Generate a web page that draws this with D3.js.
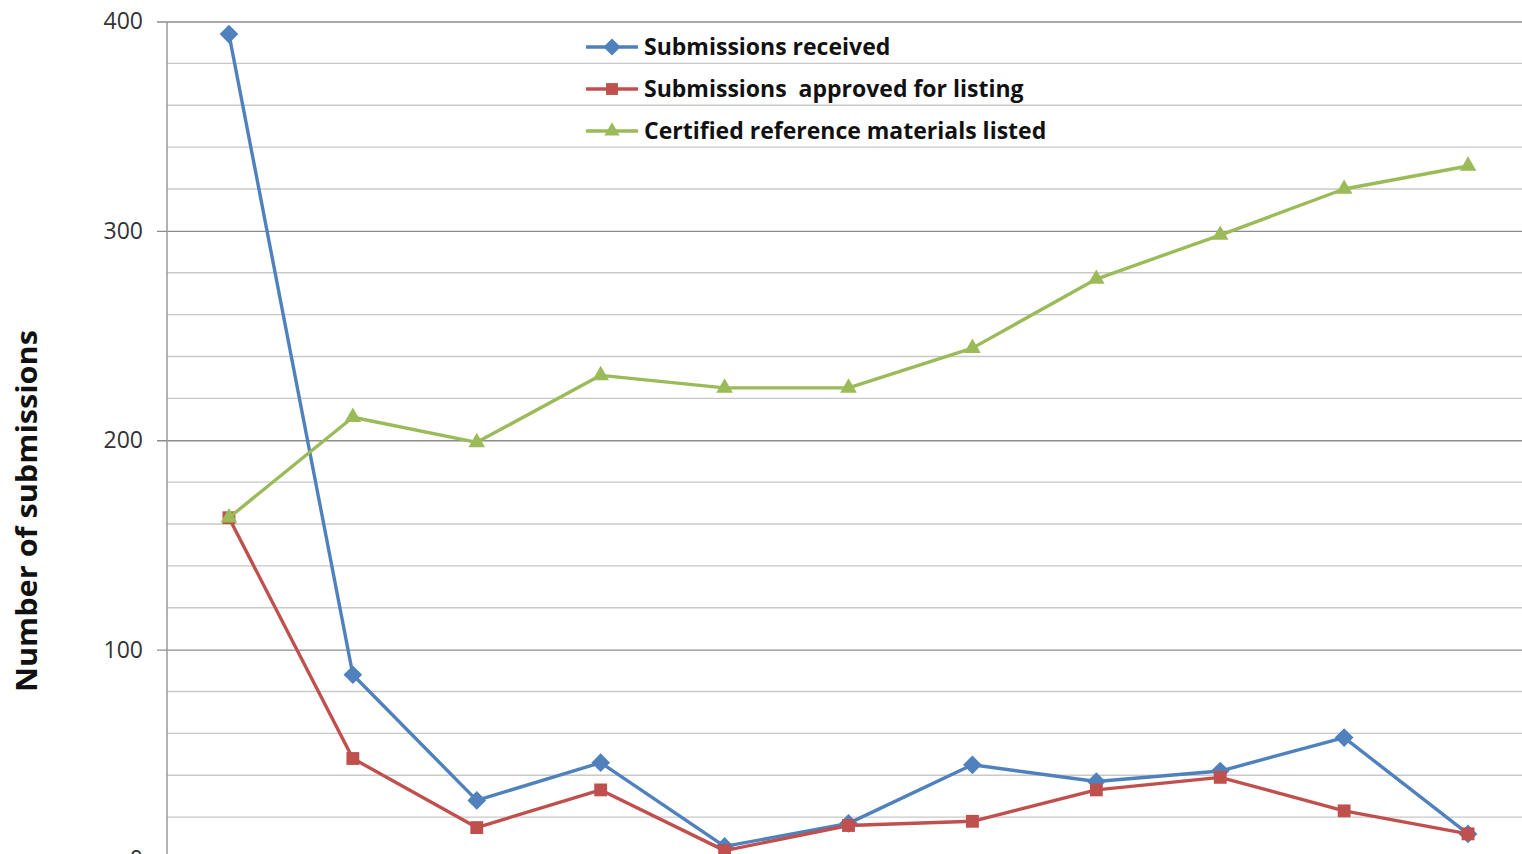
<!DOCTYPE html>
<html>
<head>
<meta charset="utf-8">
<script src="https://cdn.jsdelivr.net/npm/d3@7"></script>
<style>
  html, body { margin: 0; padding: 0; background: #fff; overflow: hidden; }
  svg { display: block; }
  text { font-family: "Open Sans", "Liberation Sans", sans-serif; }
</style>
</head>
<body>
<svg id="chart" width="1522" height="854"></svg>
<script>
// Categories (reporting years) and the three series
const categories = ["2003", "2004", "2005", "2006", "2007", "2008", "2009", "2010", "2011", "2012", "2013"];
const received = [394, 88, 28, 46, 6, 17, 45, 37, 42, 58, 12];
const approved = [163, 48, 15, 33, 4, 16, 18, 33, 39, 23, 12];
const listed = [163, 211, 199, 231, 225, 225, 244, 277, 298, 320, 331];
const seriesNames = ["Submissions received", "Submissions  approved for listing", "Certified reference materials listed"];
const yTicks = [0, 100, 200, 300, 400];

const svg = d3.select("#chart");
const plotLeft = 167, plotRight = 1530, plotTop = 21.5, plotBottom = 859;

const x = d3.scaleBand().domain(categories).range([plotLeft, plotRight]);
const y = d3.scaleLinear().domain([0, 400]).range([plotBottom, plotTop]);
const cx = c => x(c) + x.bandwidth() / 2;

// Minor gridlines every 20
const minor = d3.range(20, 400, 20).filter(v => v % 100 !== 0);
svg.append("g").selectAll("line").data(minor).join("line")
  .attr("x1", plotLeft).attr("x2", plotRight)
  .attr("y1", d => y(d)).attr("y2", d => y(d))
  .attr("stroke", "#c8c8c8").attr("stroke-width", 1.3);

// Major gridlines with ticks
const yAxis = d3.axisLeft(y).tickValues(yTicks).tickSize(-(plotRight - plotLeft)).tickPadding(24);
const gy = svg.append("g").attr("transform", `translate(${plotLeft},0)`).call(yAxis);
gy.select(".domain").remove();
gy.selectAll(".tick line").attr("stroke", "#8c8c8c").attr("stroke-width", 1.3).attr("x1", -10);
gy.selectAll(".tick text").attr("fill", "#333").attr("font-size", 23)
  .attr("font-family", "'Open Sans', sans-serif");

// Vertical axis line
svg.append("line").attr("x1", plotLeft).attr("x2", plotLeft).attr("y1", plotTop).attr("y2", plotBottom)
  .attr("stroke", "#9a9a9a").attr("stroke-width", 1.5);

// Category axis line at the bottom edge
svg.append("line").attr("x1", plotLeft).attr("x2", plotRight).attr("y1", plotBottom).attr("y2", plotBottom)
  .attr("stroke", "#9a9a9a").attr("stroke-width", 1.5);

// Axis title
svg.append("text")
  .attr("transform", `translate(37,511) rotate(-90)`)
  .attr("text-anchor", "middle")
  .attr("font-size", 28).attr("font-weight", "bold").attr("fill", "#111")
  .attr("textLength", 362).attr("lengthAdjust", "spacingAndGlyphs")
  .text("Number of submissions");

const colors = ["#4F81BD", "#C0504D", "#9BBB59"];
// Diamond = square turned 45 degrees
const symbols = [d3.symbolSquare, d3.symbolSquare, d3.symbolTriangle];
const rotations = [45, 0, 0];
const symSizes = [175, 165, 120];
const data = [received, approved, listed];

const line = d3.line().x((d, i) => cx(categories[i])).y(d => y(d));

// Series in order: later series sit on top
[0, 1, 2].forEach(s => {
  const g = svg.append("g");
  g.append("path").datum(data[s]).attr("d", line)
    .attr("fill", "none").attr("stroke", colors[s]).attr("stroke-width", 3.4)
    .attr("stroke-linejoin", "round");
  g.selectAll("path.m").data(data[s]).join("path").attr("class", "m")
    .attr("transform", (d, i) => `translate(${cx(categories[i])},${y(d)}) rotate(${rotations[s]})`)
    .attr("d", d3.symbol().type(symbols[s]).size(symSizes[s]))
    .attr("fill", colors[s]);
});

// Legend
const lg = svg.append("g");
seriesNames.forEach((name, i) => {
  const cy = 47 + i * 42;
  lg.append("line").attr("x1", 586).attr("x2", 638).attr("y1", cy).attr("y2", cy)
    .attr("stroke", colors[i]).attr("stroke-width", 3.4);
  lg.append("path").attr("transform", `translate(612,${cy}) rotate(${rotations[i]})`)
    .attr("d", d3.symbol().type(symbols[i]).size(symSizes[i] * 0.85))
    .attr("fill", colors[i]);
  lg.append("text").attr("x", 644).attr("y", cy).attr("dy", "0.35em")
    .attr("font-size", 23).attr("font-weight", "bold").attr("fill", "#111")
    .style("white-space", "pre")
    .text(name);
});
</script>
</body>
</html>
